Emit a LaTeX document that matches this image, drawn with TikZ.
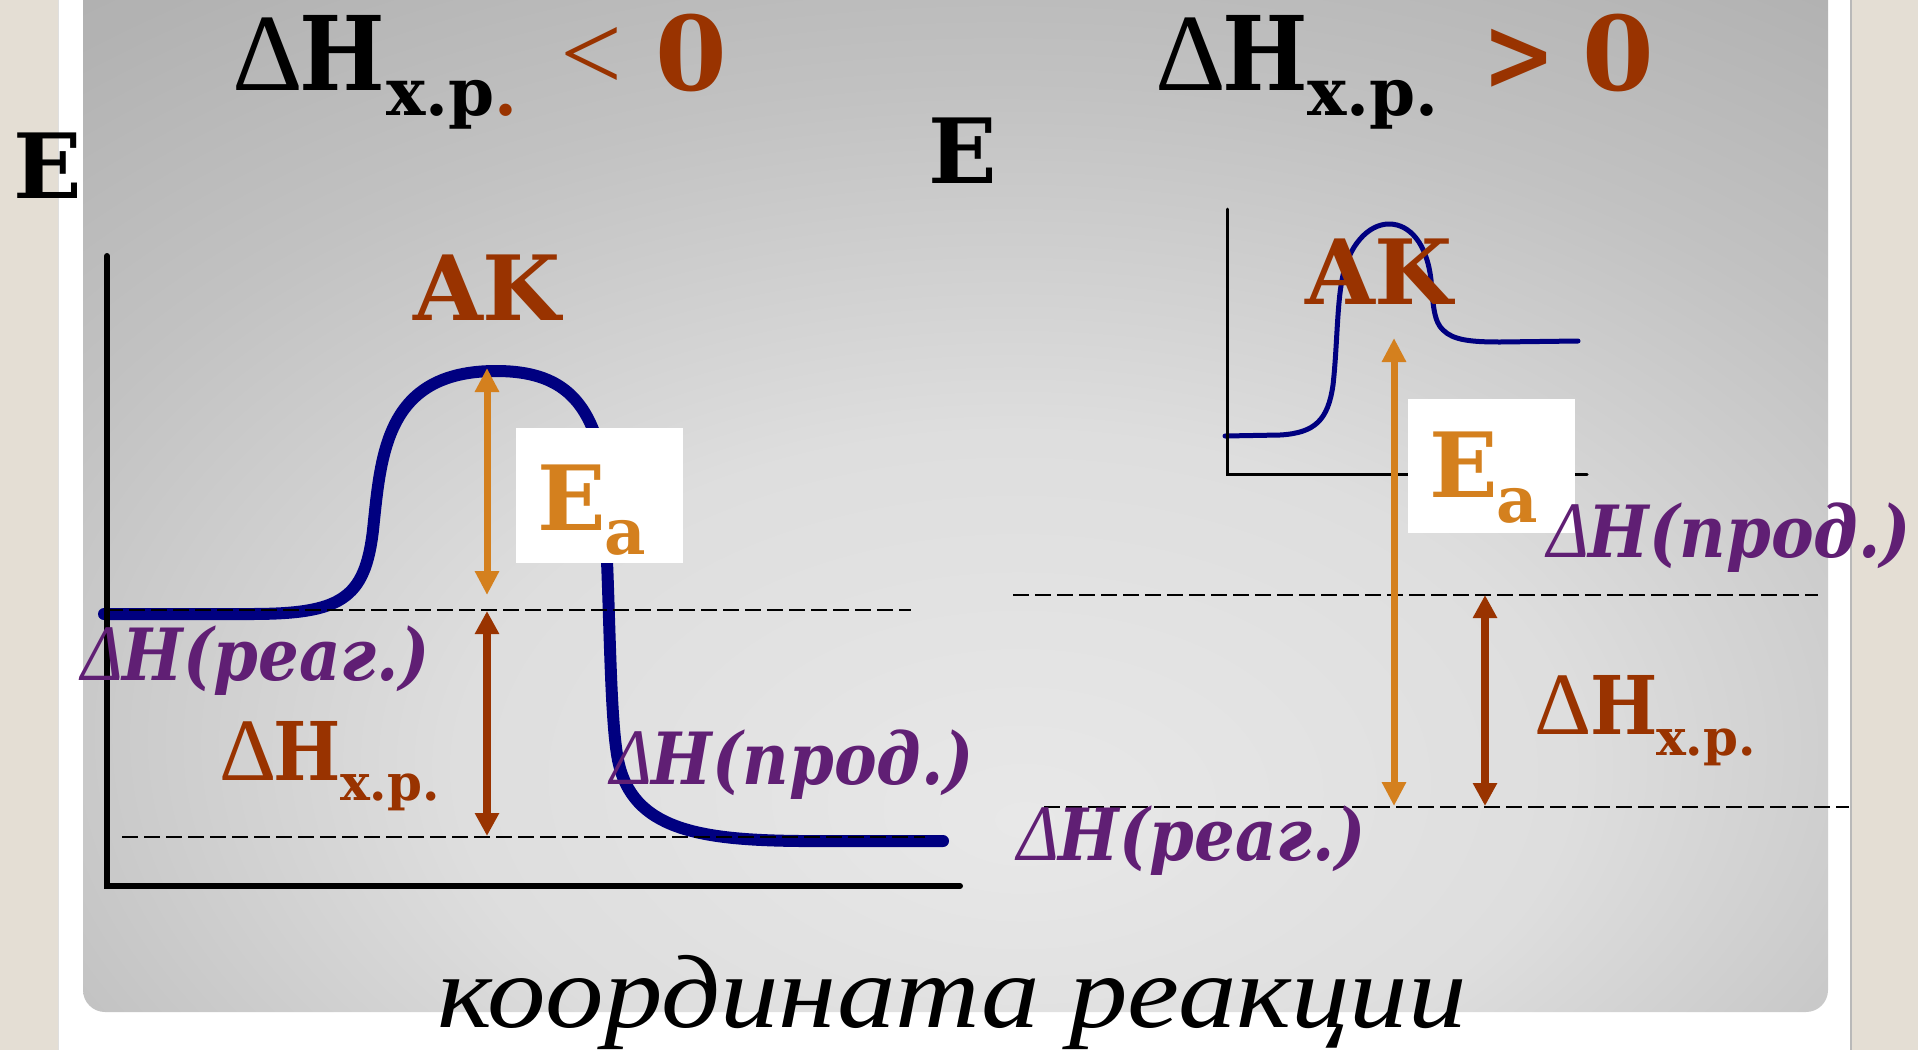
\documentclass[tikz,border=0pt]{standalone}
\usepackage{fontspec}
\usepackage{graphicx}
\setmainfont{DejaVu Serif}
\newfontfamily\greekf{Liberation Serif}
\newfontfamily\coordf{Liberation Serif}
\usetikzlibrary{arrows.meta}
\definecolor{navy}{RGB}{0,0,128}
\definecolor{brn}{RGB}{153,51,0}
\definecolor{orng}{RGB}{212,128,30}
\definecolor{purp}{RGB}{96,31,116}
\definecolor{beige}{RGB}{228,222,212}
\definecolor{pnlA}{gray}{0.91}
\definecolor{pnlB}{gray}{0.87}
\definecolor{pnlC}{gray}{0.76}
\definecolor{pnlD}{gray}{0.70}
\definecolor{pnlE}{gray}{0.66}
\definecolor{pnlF}{gray}{0.64}
\pgfdeclareradialshading{panelshade}{\pgfpoint{2bp}{-16bp}}{color(0bp)=(pnlA); color(16bp)=(pnlB); color(30bp)=(pnlC); color(40bp)=(pnlD); color(52bp)=(pnlE); color(65bp)=(pnlF); color(100bp)=(pnlF)}
\newcommand\fsz[1]{\fontsize{#1}{#1}\selectfont}
\newcommand\nx[1]{\scalebox{0.88}[1]{#1}}
\newcommand\lbl[1]{\scalebox{0.89}[1]{{\greekf\itshape\fsz{80}Δ}{\bfseries\itshape\fsz{72}H(#1.)}}}
\tikzset{
  txt/.style={inner sep=0pt, outer sep=0pt, anchor=base west},
  dashln/.style={black, line width=2.8pt, dash pattern=on 16pt off 6pt},
  oarrow/.style={orng, line width=7pt, {Triangle[length=24pt,width=23pt]}-{Triangle[length=24pt,width=23pt]}},
  barrow/.style={brn, line width=8pt, {Triangle[length=23pt,width=23pt]}-{Triangle[length=23pt,width=23pt]}},
  eabox/.style={fill=white, inner sep=0pt, outer sep=0pt, anchor=north west},
  purplbl/.style={txt, text=purp},
}
\begin{document}
\begin{tikzpicture}[x=1pt,y=-1pt]
\useasboundingbox (0,0) rectangle (1918,1050);
% background
\fill[white] (0,0) rectangle (1918,1050);
\fill[beige] (0,0) rectangle (58,1050);
\fill[beige] (1851,0) rectangle (1918,1050);
\draw[gray!55, line width=1.2pt] (1851,0) -- (1851,1050);
\draw[gray!25, line width=1pt] (58,0) -- (58,1050);
% panel
\shade[shading=panelshade, rounded corners=22pt] (83,-40) rectangle (1828,1012);

% ===== left diagram =====
\draw[navy, line width=12pt, line cap=round]
  (104,614) -- (250,614)
  .. controls (340,614) and (365,600) .. (373,530)
  .. controls (381,455) and (385,371) .. (496,371)
  .. controls (545,371) and (577,387) .. (594,432)
  .. controls (612,490) and (606,700) .. (618,760)
  .. controls (632,830) and (700,840) .. (800,841)
  -- (943,841);
\draw[black, line width=6pt, line cap=round, line join=miter] (107,256) -- (107,886) -- (960,886);
\coordinate (dLa1) at (107,610); \coordinate (dLa2) at (911,610);
\coordinate (dLb1) at (122,837); \coordinate (dLb2) at (925,837);
\draw[dashln] (dLa1) -- (dLa2);
\draw[dashln] (dLb1) -- (dLb2);
\coordinate (eaLtop) at (487,368); \coordinate (eaLbot) at (487,595);
\coordinate (dhLtop) at (487,611); \coordinate (dhLbot) at (487,836);
\draw[oarrow] (eaLbot) -- (eaLtop);
\draw[barrow] (dhLtop) -- (dhLbot);
\node[eabox, minimum width=167pt, minimum height=135pt] (eaBoxL) at (516,428) {};
\node[txt, font=\bfseries\fsz{90}, text=orng] (eaL) at (537,530) {E};
\node[txt, font=\bfseries\fsz{64}, text=orng] (eaLs) at (604,554) {a};
\node[txt, font=\bfseries\fsz{90}, text=brn] (akL) at (413,320) {AK};
\node[purplbl] (reagL) at (81,680) {\lbl{реаг}};
\node[purplbl] (prodL) at (610,784) {\lbl{прод}};
\node[txt, font=\greekf\fsz{89}, text=brn] (dhLd) at (219,780) {Δ};
\node[txt, font=\bfseries\fsz{81}, text=brn] (dhLH) at (273,780) {\nx{H}};
\node[txt, font=\bfseries\fsz{50}, text=brn] (dhLs) at (340,800) {х.р.};

% ===== right diagram =====
\draw[navy, line width=5pt, line cap=round]
  (1225,436) -- (1280,435)
  .. controls (1315,433) and (1328,420) .. (1333,385)
  .. controls (1337,350) and (1337,305) .. (1342,280)
  .. controls (1348,246) and (1368,224) .. (1389,224)
  .. controls (1410,224) and (1427,244) .. (1431,280)
  .. controls (1433,305) and (1434,322) .. (1443,330)
  .. controls (1453,340) and (1470,342) .. (1500,342)
  -- (1578,341);
\draw[black, line width=3pt, line cap=round, line join=miter] (1227,209) -- (1227,474) -- (1587,474);
\coordinate (dRa1) at (1013,595); \coordinate (dRa2) at (1818,595);
\coordinate (dRb1) at (1044,807); \coordinate (dRb2) at (1849,807);
\draw[dashln] (dRa1) -- (dRa2);
\draw[dashln] (dRb1) -- (dRb2);
\coordinate (eaRtop) at (1394,338); \coordinate (eaRbot) at (1394,806);
\coordinate (dhRtop) at (1485,595); \coordinate (dhRbot) at (1485,806);
\draw[oarrow] (eaRbot) -- (eaRtop);
\draw[barrow] (dhRtop) -- (dhRbot);
\node[eabox, minimum width=167pt, minimum height=134pt] (eaBoxR) at (1408,399) {};
\node[txt, font=\bfseries\fsz{90}, text=orng] (eaR) at (1429,497) {E};
\node[txt, font=\bfseries\fsz{64}, text=orng] (eaRs) at (1496,522) {a};
\node[txt, font=\bfseries\fsz{90}, text=brn] (akR) at (1305,304) {AK};
\node[purplbl] (prodR) at (1547,557) {\lbl{прод}};
\node[purplbl] (reagR) at (1017,860) {\lbl{реаг}};
\node[txt, font=\greekf\fsz{89}, text=brn] (dhRd) at (1534,734) {Δ};
\node[txt, font=\bfseries\fsz{81}, text=brn] (dhRH) at (1590,734) {\nx{H}};
\node[txt, font=\bfseries\fsz{50}, text=brn] (dhRs) at (1656,755) {х.р.};

% ===== titles and axis labels =====
\node[txt, font=\greekf\fsz{110}] (tLd) at (232,90) {Δ};
\node[txt, font=\bfseries\fsz{103}] (tLH) at (299,90) {\nx{H}};
\node[txt, font=\bfseries\fsz{66}] (tLs) at (386,115) {х.р\textcolor{brn}{.}};
\node[txt, font=\greekf\fsz{110}, text=brn] (tLlt) at (560,90) {<};
\node[txt, font=\bfseries\fsz{103}, text=brn] (tL0) at (655,90) {0};
\node[txt, font=\greekf\fsz{110}] (tRd) at (1155,90) {Δ};
\node[txt, font=\bfseries\fsz{103}] (tRH) at (1222,90) {\nx{H}};
\node[txt, font=\bfseries\fsz{66}] (tRs) at (1307,115) {х.р.};
\node[txt, font=\bfseries\fsz{103}, text=brn] (tRgt) at (1482,90) {\scalebox{0.85}[1]{>}};
\node[txt, font=\bfseries\fsz{103}, text=brn] (tR0) at (1582,90) {0};
\node[txt, font=\bfseries\fsz{90}] (eL) at (13,198) {E};
\node[txt, font=\bfseries\fsz{90}] (eR) at (928,183) {E};
\node[txt, font=\coordf\itshape\fsz{104}] (coord) at (437,1027) {\scalebox{1.125}[1]{координата реакции}};
\end{tikzpicture}
\end{document}
